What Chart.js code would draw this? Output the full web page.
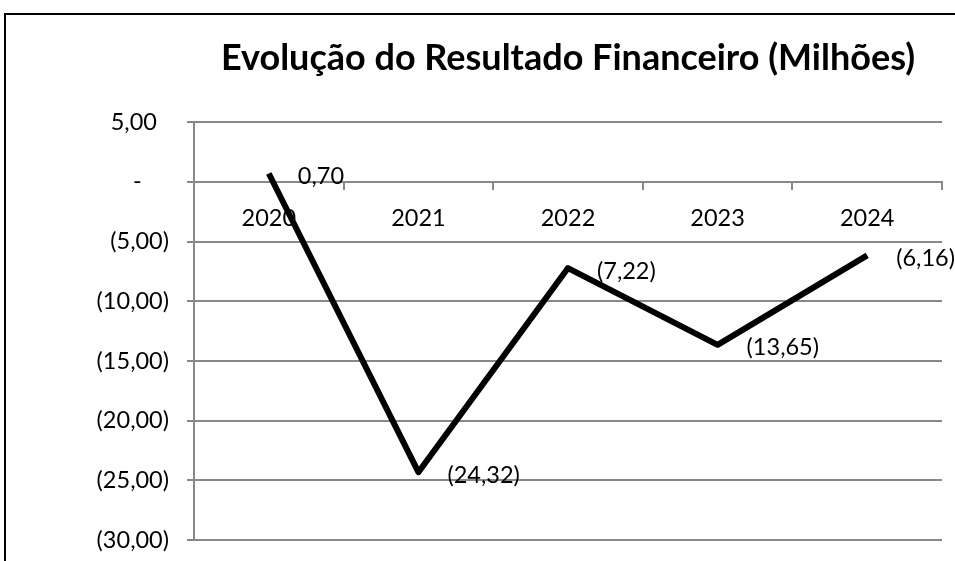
<!DOCTYPE html>
<html>
<head>
<meta charset="utf-8">
<script src="https://cdn.jsdelivr.net/npm/chart.js@4.4.1/dist/chart.umd.min.js"></script>
<style>
  html, body { margin: 0; padding: 0; background: #fff; overflow: hidden; }
  #frame { position: absolute; left: 4px; top: 13px; width: 1000px; height: 600px; border: 2px solid #000; }
  #chart { position: absolute; left: 0; top: 0; }
</style>
</head>
<body>
<div id="frame"></div>
<canvas id="chart" width="955" height="561"></canvas>
<script>
const years = ['2020', '2021', '2022', '2023', '2024'];
const resultado = [0.70, -24.32, -7.22, -13.65, -6.16];
const yMin = -30;
const yMax = 5;
const yStep = 5;
const titulo = 'Evolução do Resultado Financeiro (Milhões)';

const gridColor = '#888888';
const fontFamily = 'Lato, "Open Sans", sans-serif';
const textSize = 23.5;

// formato contabil: 5,00 / - / (5,00)
function fmt(v) {
    if (Math.abs(v) < 1e-9) return '-';
    const s = Math.abs(v).toFixed(2).replace('.', ',');
    return v < 0 ? '(' + s + ')' : s;
}

function fmtTick(v) {
    if (Math.abs(v) < 1e-9) return '-\u2007\u2007';
    return v < 0 ? fmt(v) : fmt(v) + '  ';
}

// rotulos de dados ao lado dos pontos
const rotulos = {
    id: 'rotulos',
    afterDatasetsDraw(chart) {
        const ctx = chart.ctx;
        const meta = chart.getDatasetMeta(0);
        ctx.save();
        ctx.font = textSize + 'px ' + fontFamily;
        ctx.fillStyle = '#000';
        ctx.textAlign = 'left';
        ctx.textBaseline = 'middle';
        meta.data.forEach((pt, i) => {
            ctx.fillText(fmt(resultado[i]), pt.x + 29, pt.y + 3);
        });
        ctx.restore();
    }
};

const ctx = document.getElementById('chart').getContext('2d');
new Chart(ctx, {
    type: 'line',
    data: {
        labels: years,
        datasets: [{
            data: resultado,
            borderColor: '#000',
            borderWidth: 6,
            borderJoinStyle: 'round',
            pointRadius: 0,
            pointHoverRadius: 0,
            tension: 0,
            fill: false
        }]
    },
    options: {
        responsive: false,
        animation: false,
        events: [],
        layout: { padding: { left: 0, right: 13, top: 0, bottom: 21 } },
        plugins: {
            legend: { display: false },
            tooltip: { enabled: false },
            title: {
                display: true,
                text: titulo,
                fullSize: false,
                color: '#000',
                font: { family: fontFamily, size: 36, weight: 'bold', lineHeight: 1.2 },
                padding: { top: 37, bottom: 42 }
            }
        },
        scales: {
            x: {
                type: 'category',
                position: { y: 0 },
                offset: true,
                grid: { offset: true, drawOnChartArea: false, drawTicks: true, tickLength: 7, color: gridColor, lineWidth: 2 },
                border: { display: true, color: gridColor, width: 2 },
                ticks: { color: '#000', font: { family: fontFamily, size: textSize }, padding: 15, maxRotation: 0 },
                afterFit(scale) { scale.paddingLeft = 0; scale.paddingRight = 0; }
            },
            y: {
                min: yMin,
                max: yMax,
                ticks: {
                    stepSize: yStep,
                    color: '#000',
                    font: { family: fontFamily, size: textSize },
                    padding: 18,
                    callback: v => fmtTick(v)
                },
                grid: { color: gridColor, lineWidth: 2, tickLength: 7 },
                border: { display: true, color: gridColor, width: 2 },
                afterFit(scale) {
                    scale.width = 194;
                    scale.paddingTop = 0;
                    scale.paddingBottom = 0;
                }
            }
        }
    },
    plugins: [rotulos]
});
</script>
</body>
</html>
